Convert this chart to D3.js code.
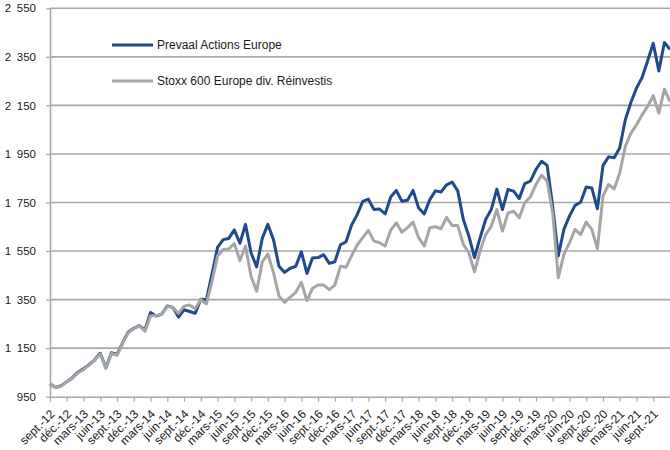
<!DOCTYPE html>
<html>
<head>
<meta charset="utf-8">
<script src="https://cdn.jsdelivr.net/npm/d3@7"></script>
<style>
  body { margin: 0; background: #fff; }
  #chart text { font-family: "Liberation Sans", Arial, sans-serif; fill: #1a1a1a; }
</style>
</head>
<body>
<div id="chart"></div>
<script>
// quarterly axis labels, one every 3 monthly points
const tickLabels = [
  'sept.-12', 'déc.-12', 'mars-13', 'juin-13', 'sept.-13', 'déc.-13', 'mars-14', 'juin-14',
  'sept.-14', 'déc.-14', 'mars-15', 'juin-15', 'sept.-15', 'déc.-15', 'mars-16', 'juin-16',
  'sept.-16', 'déc.-16', 'mars-17', 'juin-17', 'sept.-17', 'déc.-17', 'mars-18', 'juin-18',
  'sept.-18', 'déc.-18', 'mars-19', 'juin-19', 'sept.-19', 'déc.-19', 'mars-20', 'juin-20',
  'sept.-20', 'déc.-20', 'mars-21', 'juin-21', 'sept.-21'
];

const seriesNames = ['Prevaal Actions Europe', 'Stoxx 600 Europe div. Réinvestis'];

// monthly values, sept. 2012 -> déc. 2021
const prevaal = [
  1003, 988, 995, 1012, 1028, 1051, 1065, 1082, 1102, 1129,
  1069, 1131, 1124, 1172, 1216, 1232, 1243, 1225, 1297, 1282,
  1290, 1324, 1318, 1278, 1308, 1301, 1294, 1351, 1349, 1455,
  1565, 1597, 1602, 1637, 1582, 1660, 1542, 1485, 1602, 1660,
  1598, 1487, 1462, 1479, 1487, 1547, 1458, 1521, 1523, 1535,
  1499, 1506, 1576, 1588, 1657, 1700, 1755, 1764, 1721, 1723,
  1703, 1773, 1800, 1755, 1759, 1800, 1727, 1703, 1762, 1798,
  1793, 1823, 1834, 1798, 1680, 1611, 1523, 1605, 1680, 1721,
  1805, 1721, 1804, 1797, 1766, 1828, 1838, 1886, 1920, 1903,
  1735, 1530, 1639, 1694, 1738, 1751, 1814, 1810, 1724, 1902,
  1938, 1934, 1975, 2091, 2162, 2221, 2265, 2334, 2406, 2292,
  2409, 2381
];

const stoxx = [
  1003, 988, 993, 1012, 1026, 1048, 1062, 1080, 1100, 1126,
  1066, 1128, 1121, 1170, 1213, 1230, 1242, 1220, 1283, 1284,
  1290, 1322, 1318, 1293, 1323, 1328, 1312, 1350, 1332, 1425,
  1530, 1556, 1558, 1581, 1510, 1571, 1445, 1385, 1505, 1538,
  1462, 1364, 1339, 1360, 1380, 1421, 1346, 1397, 1410, 1410,
  1391, 1410, 1487, 1483, 1531, 1575, 1605, 1635, 1591, 1584,
  1571, 1636, 1666, 1628, 1646, 1669, 1605, 1571, 1646, 1650,
  1642, 1689, 1655, 1655, 1577, 1543, 1464, 1550, 1618, 1652,
  1721, 1632, 1707, 1714, 1687, 1749, 1773, 1824, 1862, 1838,
  1707, 1440, 1536, 1584, 1639, 1618, 1669, 1639, 1560, 1776,
  1824, 1806, 1872, 1981, 2036, 2070, 2111, 2146, 2190, 2118,
  2217, 2166
];

const yTicks = [950, 1150, 1350, 1550, 1750, 1950, 2150, 2350, 2550];

const width = 670,
      height = 450,
      margin = {top: 8.3, right: 0, bottom: 53.3, left: 50};

const BLUE = '#1f4a8c',
      GREY = '#a5a5a5',
      GRID = '#a8a8a8';

const svg = d3.select('#chart').append('svg')
  .attr('width', width)
  .attr('height', height);

const x = d3.scaleLinear()
  .domain([0, prevaal.length - 1])
  .range([margin.left, width]);
const y = d3.scaleLinear()
  .domain([950, 2550])
  .range([height - margin.bottom, margin.top]);

// french style thousands: "2 550"
const fmt = d => {
  const s = String(d);
  return s.length > 3 ? s.slice(0, -3) + '\u2002' + s.slice(-3) : s;
};

// horizontal grid
svg.append('g')
  .selectAll('line')
  .data(yTicks.slice(1))
  .enter().append('line')
  .attr('x1', margin.left)
  .attr('x2', width)
  .attr('y1', d => y(d))
  .attr('y2', d => y(d))
  .attr('stroke', GRID)
  .attr('stroke-width', 1.6);

// y axis
const yAxis = d3.axisLeft(y)
  .tickValues(yTicks)
  .tickFormat(fmt)
  .tickSize(4)
  .tickSizeOuter(0)
  .tickPadding(10);
const gy = svg.append('g')
  .attr('transform', 'translate(' + margin.left + ',0)')
  .call(yAxis);
gy.select('.domain').attr('stroke', GRID).attr('stroke-width', 1.6);
gy.selectAll('.tick line').attr('stroke', GRID).attr('stroke-width', 1.2);
gy.selectAll('text').attr('font-size', 11.5).attr('fill', '#1a1a1a');

// x axis
const xAxis = d3.axisBottom(x)
  .tickValues(d3.range(0, tickLabels.length * 3, 3))
  .tickFormat((d, i) => tickLabels[i])
  .tickSize(5)
  .tickSizeOuter(0);
const gx = svg.append('g')
  .attr('transform', 'translate(0,' + y(950) + ')')
  .call(xAxis);
gx.select('.domain').attr('stroke', GRID).attr('stroke-width', 1.6);
gx.selectAll('.tick line').attr('stroke', GRID).attr('stroke-width', 1.2);
gx.selectAll('text')
  .attr('font-size', 12)
  .attr('fill', '#1a1a1a')
  .attr('text-anchor', 'end')
  .attr('x', null)
  .attr('y', null)
  .attr('dy', null)
  .attr('transform', 'translate(5,18) rotate(-45)');

// series
const line = d3.line()
  .x((d, i) => x(i))
  .y(d => y(d));

const series = [
  {name: seriesNames[0], values: prevaal, color: BLUE},
  {name: seriesNames[1], values: stoxx, color: GREY}
];

svg.append('g')
  .selectAll('path')
  .data(series)
  .enter().append('path')
  .attr('d', d => line(d.values))
  .attr('fill', 'none')
  .attr('stroke', d => d.color)
  .attr('stroke-width', 3)
  .attr('stroke-linejoin', 'round');

// legend
const legend = svg.append('g')
  .selectAll('g')
  .data(series)
  .enter().append('g')
  .attr('transform', (d, i) => 'translate(112,' + (45 + i * 36) + ')');
legend.append('line')
  .attr('x1', 0)
  .attr('x2', 41)
  .attr('stroke', d => d.color)
  .attr('stroke-width', 3);
legend.append('text')
  .attr('x', 45)
  .attr('y', 4.3)
  .attr('font-size', 12)
  .text(d => d.name);
</script>
</body>
</html>
